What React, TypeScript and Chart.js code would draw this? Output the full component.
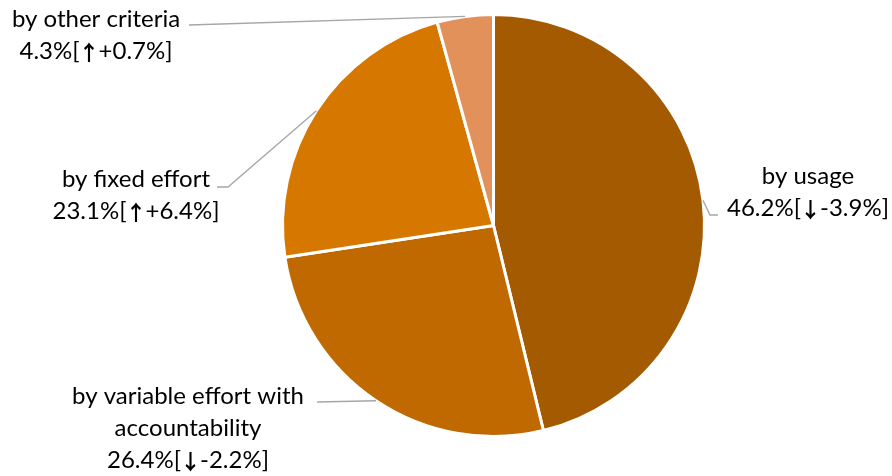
import React, { useEffect, useRef } from "react";
import { Chart, registerables } from "chart.js";

Chart.register(...registerables);

const categories = ["by usage", "by variable effort with accountability", "by fixed effort", "by other criteria"];
const labelLines = [["by usage"], ["by variable effort with", "accountability"], ["by fixed effort"], ["by other criteria"]];
const shares = [46.2, 26.4, 23.1, 4.3];
const changes = [-3.9, -2.2, 6.4, 0.7];
const colors = ["#A45A00", "#BF6900", "#D67800", "#E3915B"];

// label layout: text center x, first baseline y, leader path points after the arc anchor
const labelLayout = [
  { cx: 808, y: 184, path: [[710, 215], [718, 215]] },
  { cx: 188, y: 404, path: [[317, 402]] },
  { cx: 136, y: 187, path: [[228, 187], [217, 187]] },
  { cx: 96, y: 27, path: [[189, 25]] },
];

const FONT = "24px Lato, 'DejaVu Sans', sans-serif";
const ARROW_FONT = "bold 21px 'Noto Sans CJK SC', 'DejaVu Sans', sans-serif";
const LINE_H = 32;

function valueParts(i: number) {
  const c = changes[i];
  const arrow = c >= 0 ? "\u2191" : "\u2193";
  const sign = c >= 0 ? "+" : "-";
  return [`${shares[i].toFixed(1)}%[`, arrow, `${sign}${Math.abs(c).toFixed(1)}%]`];
}

const labelPlugin = {
  id: "pieLabels",
  afterDatasetsDraw(chart: any) {
    const ctx = chart.ctx;
    const meta = chart.getDatasetMeta(0);
    ctx.save();
    meta.data.forEach((arc: any, i: number) => {
      const { x, y, startAngle, endAngle, outerRadius } = arc.getProps(["x", "y", "startAngle", "endAngle", "outerRadius"], true);
      const mid = (startAngle + endAngle) / 2;
      const ax = x + Math.cos(mid) * outerRadius;
      const ay = y + Math.sin(mid) * outerRadius;
      const lay = labelLayout[i];
      ctx.strokeStyle = "#A6A6A6";
      ctx.lineWidth = 1.3;
      ctx.beginPath();
      ctx.moveTo(ax, ay);
      lay.path.forEach((p) => ctx.lineTo(p[0], p[1]));
      ctx.stroke();
      ctx.fillStyle = "#000000";
      ctx.font = FONT;
      ctx.textAlign = "center";
      ctx.textBaseline = "alphabetic";
      const lines = labelLines[i];
      lines.forEach((t, k) => ctx.fillText(t, lay.cx, lay.y + k * LINE_H));
      // value line with arrow glyph
      const parts = valueParts(i);
      const fonts = [FONT, ARROW_FONT, FONT];
      const widths = parts.map((p, k) => {
        ctx.font = fonts[k];
        return ctx.measureText(p).width - (k === 1 ? 2 : 0);
      });
      const total = widths.reduce((a, b) => a + b, 0);
      let px = lay.cx - total / 2;
      const py = lay.y + lines.length * LINE_H;
      ctx.textAlign = "left";
      parts.forEach((p, k) => {
        ctx.font = fonts[k];
        ctx.fillText(p, k === 1 ? px - 1 : px, k === 1 ? py + 1 : py);
        px += widths[k];
      });
    });
    ctx.restore();
  },
};

export default function App() {
  const ref = useRef<HTMLCanvasElement>(null);
  useEffect(() => {
    if (!ref.current) return;
    const chart = new Chart(ref.current, {
      type: "pie",
      data: {
        labels: categories,
        datasets: [
          {
            data: shares,
            backgroundColor: colors,
            borderColor: "#FFFFFF",
            borderWidth: 3,
          },
        ],
      },
      options: {
        responsive: false,
        animation: false,
        layout: { padding: { left: 281, right: 186, top: 12, bottom: 37 } },
        plugins: { legend: { display: false }, tooltip: { enabled: false } },
      },
      plugins: [labelPlugin],
    });
    return () => chart.destroy();
  }, []);
  return (
    <div style={{ position: "absolute", left: 0, top: 0, width: 892, height: 476, background: "#fff" }}>
      <canvas ref={ref} width={892} height={476} />
    </div>
  );
}
